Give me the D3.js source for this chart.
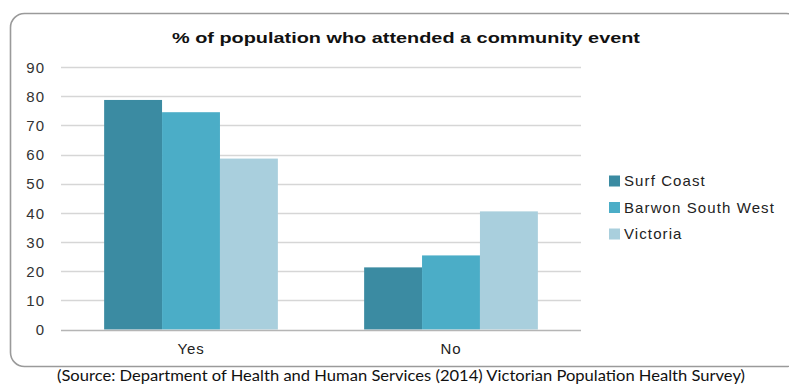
<!DOCTYPE html>
<html>
<head>
<meta charset="utf-8">
<script src="https://cdn.jsdelivr.net/npm/d3@7"></script>
<style>
  html, body { margin: 0; padding: 0; background: #fff; }
  svg { display: block; }
</style>
</head>
<body>
<svg id="chart" width="789" height="385"></svg>
<script>
// Attendance at community events, by area
const categories = ["Yes", "No"];
const seriesNames = ["Surf Coast", "Barwon South West", "Victoria"];
const surfCoast = [78.7, 21.3];
const barwonSouthWest = [74.5, 25.4];
const victoria = [58.6, 40.5];
const yTicks = [0, 10, 20, 30, 40, 50, 60, 70, 80, 90];
const seriesColors = ["#3b8ba2", "#4badc7", "#a9cfdd"];

const titleText = "% of population who attended a community event";
const sourceText = "(Source: Department of Health and Human Services (2014) Victorian Population Health Survey)";

const seriesValues = [surfCoast, barwonSouthWest, victoria];

const svg = d3.select("#chart");
const plot = { left: 61, right: 581, top: 67, bottom: 329.5 };
const labelFont = "Arial, 'Liberation Sans', sans-serif";

// Frame with rounded corners
svg.append("rect")
  .attr("x", 10.5).attr("y", 13.5)
  .attr("width", 790).attr("height", 353)
  .attr("rx", 14).attr("ry", 14)
  .attr("fill", "#fff")
  .attr("stroke", "#9a9a9a")
  .attr("stroke-width", 1.6);

// Title
svg.append("text")
  .attr("x", 406).attr("y", 43)
  .attr("text-anchor", "middle")
  .attr("font-family", labelFont)
  .attr("font-weight", "bold")
  .attr("font-size", 15.5)
  .attr("fill", "#111")
  .attr("textLength", 468)
  .attr("lengthAdjust", "spacingAndGlyphs")
  .text(titleText);

// One band per category; bars fill the band minus a gap of ~1.5 bar widths
const xGroup = d3.scaleBand()
  .domain(categories)
  .range([plot.left, plot.right]);

const barW = xGroup.bandwidth() / (3 + 1.49);
const x1 = d3.scaleBand()
  .domain(seriesNames)
  .range([0, barW * 3]);

const y = d3.scaleLinear().domain([0, 90]).range([plot.bottom, plot.top]);

// Gridlines
svg.append("g")
  .selectAll("line")
  .data(yTicks.filter(t => t > 0))
  .join("line")
  .attr("x1", plot.left).attr("x2", plot.right)
  .attr("y1", d => Math.round(y(d)) + 0.5)
  .attr("y2", d => Math.round(y(d)) + 0.5)
  .attr("stroke", "#d6d6d6")
  .attr("stroke-width", 1.5);

// Y axis labels
const yAxis = d3.axisLeft(y).tickValues(yTicks).tickSize(0).tickPadding(0);
const yG = svg.append("g")
  .attr("transform", `translate(45,0)`)
  .call(yAxis);
yG.select(".domain").remove();
yG.selectAll("text")
  .attr("font-family", labelFont)
  .attr("font-size", 15)
  .attr("letter-spacing", 1)
  .attr("fill", "#333")
  .attr("dy", "0.35em");

// Bars
const groups = svg.append("g")
  .selectAll("g")
  .data(categories)
  .join("g")
  .attr("transform", d => `translate(${xGroup(d) + (xGroup.bandwidth() - barW * 3) / 2},0)`);

groups.selectAll("rect")
  .data((c, ci) => seriesNames.map((s, si) => ({ s, si, v: seriesValues[si][ci] })))
  .join("rect")
  .attr("x", d => x1(d.s))
  .attr("width", x1.bandwidth())
  .attr("y", d => y(d.v))
  .attr("height", d => y(0) - y(d.v))
  .attr("fill", d => seriesColors[d.si]);

// Baseline
svg.append("line")
  .attr("x1", plot.left).attr("x2", plot.right)
  .attr("y1", Math.round(y(0)) + 0.5).attr("y2", Math.round(y(0)) + 0.5)
  .attr("stroke", "#b5b5b5")
  .attr("stroke-width", 1.5);

// X axis labels
const xAxis = d3.axisBottom(xGroup).tickSize(0).tickPadding(0);
const xG = svg.append("g")
  .attr("transform", `translate(0,${plot.bottom})`)
  .call(xAxis);
xG.select(".domain").remove();
xG.selectAll("text")
  .attr("font-family", labelFont)
  .attr("font-size", 15)
  .attr("letter-spacing", 0.8)
  .attr("fill", "#222")
  .attr("dy", 24);

// Legend
const legend = svg.append("g")
  .selectAll("g")
  .data(seriesNames)
  .join("g")
  .attr("transform", (d, i) => `translate(609,${181 + i * 26.5})`);

legend.append("rect")
  .attr("x", 0).attr("y", -5.5)
  .attr("width", 11).attr("height", 11)
  .attr("fill", (d, i) => seriesColors[i]);

legend.append("text")
  .attr("x", 15).attr("y", 0)
  .attr("dy", "0.36em")
  .attr("font-family", labelFont)
  .attr("font-size", 15)
  .attr("letter-spacing", 1.1)
  .attr("fill", "#222")
  .text(d => d);

// Source line
svg.append("text")
  .attr("x", 401).attr("y", 380.5)
  .attr("text-anchor", "middle")
  .attr("font-family", "Lato, sans-serif")
  .attr("font-size", 16)
  .attr("fill", "#111")
  .attr("textLength", 688)
  .attr("lengthAdjust", "spacingAndGlyphs")
  .text(sourceText);
</script>
</body>
</html>
